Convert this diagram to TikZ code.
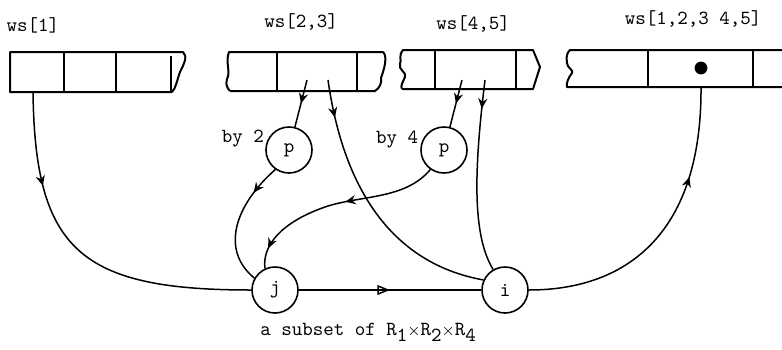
\documentclass[tikz,border=0pt]{standalone}
\usepackage{tikz}
\usetikzlibrary{arrows.meta,decorations.markings,positioning}
\tikzset{
  cell/.style={
    line width=1pt,
    line join=round
  },
  nodo/.style={
    circle,
    draw,
    line width=0.8pt,
    minimum size=23pt,
    inner sep=0pt,
    font=\ttfamily
  },
  lbl/.style={
    font=\ttfamily,
    inner sep=2pt
  },
  link/.style={
    line width=0.75pt
  },
  midtip/.style={
    postaction={decorate,decoration={markings,
      mark=at position #1 with {\arrow{Stealth[length=1.8mm,width=1.6mm]}}}}
  },
  opentip/.style={
    postaction={decorate,decoration={markings,
      mark=at position #1 with {\arrow{Triangle[open,length=2.2mm,width=1.7mm,line width=0.75pt]}}}}
  }
}
\newcommand{\lowdig}[1]{\raisebox{-0.7ex}{#1}}
\newcommand{\smalltimes}{{\footnotesize$\times$}}

\begin{document}
\begin{tikzpicture}[x=0.5pt,y=-0.5pt]
\useasboundingbox (0,0) rectangle (782,349);

\draw[cell] (172,92) -- (10,92) -- (10,52) -- (183,52)
  .. controls (188,56) and (184,64) .. (180,72)
  .. controls (177,80) and (176,88) .. (172,92);
\foreach \x in {64,116} \draw[cell] (\x,52) -- (\x,92);
\draw[cell] (171,56) -- (171,91);

\draw[cell] (230,91) -- (375,91)
  .. controls (380,88) and (382,82) .. (381,78)
  .. controls (384,70) and (388,56) .. (383,52) -- (229,52)
  .. controls (225,62) and (231,72) .. (227,79)
  .. controls (225,85) and (228,89) .. (230,91);
\foreach \x in {277,357} \draw[cell] (\x,52) -- (\x,91);

\draw[cell] (402,89) -- (533,89) -- (540,67) -- (533,50) -- (403,50)
  .. controls (398,56) and (402,60) .. (400,64)
  .. controls (398,70) and (407,72) .. (405,77)
  .. controls (403,82) and (400,86) .. (402,89);
\foreach \x in {435,516} \draw[cell] (\x,50) -- (\x,89);

\draw[cell] (782,50) -- (570,50)
  .. controls (565,55) and (567,60) .. (567,63)
  .. controls (567,68) and (574,70) .. (572,73)
  .. controls (568,78) and (566,84) .. (567,87) -- (782,87);
\foreach \x in {648,753} \draw[cell] (\x,50) -- (\x,87);
\fill (701,68) circle (3.2pt);

\node[lbl] (ws1) at (33,25) {ws[1]};
\node[lbl] (ws23) at (301,22) {ws[2,3]};
\node[lbl] (ws45) at (473,24) {ws[4,5]};
\node[lbl] (wsall) at (693,19) {ws[1,2,3 4,5]};

\coordinate (w1) at (33,92);
\coordinate (w23a) at (307,80);
\coordinate (w23b) at (328,80);
\coordinate (w45a) at (462,80);
\coordinate (w45b) at (485,80);
\coordinate (wall) at (701,87);

\node[nodo] (p2) at (289,150) {p};
\node[nodo] (p4) at (444,150) {p};
\node[nodo] (j) at (275,290) {j};
\node[nodo] (i) at (505,290) {i};

\node[lbl,left=0pt of p2.150] (by2) {by 2};
\node[lbl,left=0pt of p4.155] (by4) {by 4};
\node[lbl,anchor=base west] (sub) at (256,335)
  {a subset of R\lowdig{1}\smalltimes R\lowdig{2}\smalltimes R\lowdig{4}};

\draw[link,midtip=0.27] (w1) .. controls (35,250) and (80,290) .. (j.west);
\draw[link,midtip=0.5] (w23a) -- (p2);
\draw[link,midtip=0.14] (w23b) .. controls (345,200) and (400,265) .. (i.155);
\draw[link,midtip=0.25] (p2.235) .. controls (235,205) and (220,250) .. (j.150);
\draw[link,midtip=0.5] (w45a) -- (p4);
\draw[link,midtip=0.15] (w45b) .. controls (474,170) and (472,235) .. (i.120);
\draw[link,midtip=0.45,midtip=0.9] (p4.235) .. controls (405,200) and (360,195) .. (325,207)
  .. controls (282,222) and (262,245) .. (j.115);
\draw[link,opentip=0.5] (j) -- (i);
\draw[link,midtip=0.7] (i.east) .. controls (630,290) and (702,230) .. (wall);
\end{tikzpicture}
\end{document}
